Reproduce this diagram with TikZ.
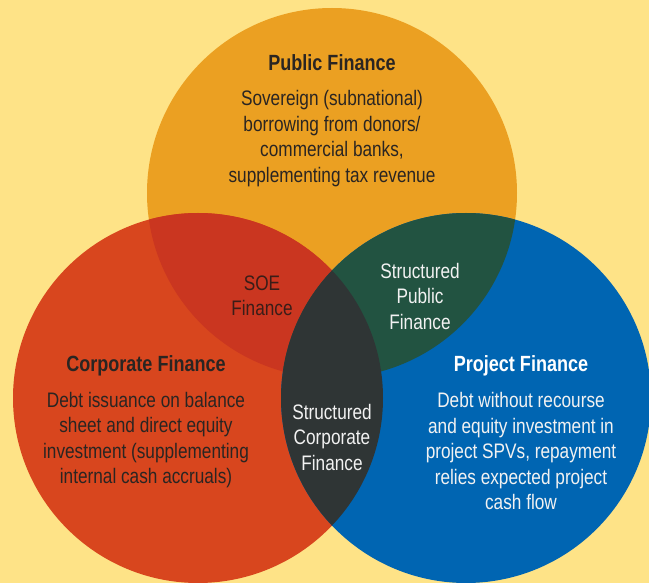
\documentclass[tikz,border=0pt]{standalone}
\usepackage{fontspec}
\setmainfont[FakeStretch=0.82]{Liberation Sans}
\definecolor{bgc}{HTML}{FEE387}
\definecolor{topc}{HTML}{EBA022}
\definecolor{leftc}{HTML}{D8461E}
\definecolor{rightc}{HTML}{0065B2}
\definecolor{tlc}{HTML}{CA3620}
\definecolor{trc}{HTML}{225341}
\definecolor{ctrc}{HTML}{2F3535}
\definecolor{darktext}{HTML}{2A2522}
\definecolor{soetext}{HTML}{3A1D18}
\definecolor{lighttext}{HTML}{F2F2F2}
\begin{document}
\begin{tikzpicture}[x=1pt,y=-1pt,
  bodytext/.style={align=center, font=\fontsize{21}{25.5}\selectfont, inner sep=0pt},
  titletext/.style={align=center, font=\fontsize{22}{26}\selectfont\bfseries, inner sep=0pt}]
\fill[bgc] (0,0) rectangle (649,583);
\useasboundingbox (0,0) rectangle (649,583);
\coordinate (T) at (332,193);
\coordinate (L) at (198,398);
\coordinate (R) at (466,398);
\fill[topc] (T) circle[radius=185];
\fill[leftc] (L) circle[radius=185];
\fill[rightc] (R) circle[radius=185];
\begin{scope}
  \clip (T) circle[radius=185];
  \fill[tlc] (L) circle[radius=185];
  \fill[trc] (R) circle[radius=185];
\end{scope}
\begin{scope}
  \clip (L) circle[radius=185];
  \fill[ctrc] (R) circle[radius=185];
\end{scope}
% titles and texts
\node[titletext, text=darktext] (pubtitle) at (332,63) {Public Finance};
\node[bodytext, text=darktext] (pubbody) at (332,138.5) {Sovereign (subnational)\\borrowing from donors/\\commercial banks,\\supplementing tax revenue};
\node[bodytext, text=soetext] (soe) at (262,296) {SOE\\Finance};
\node[bodytext, text=lighttext] (spf) at (420,296) {Structured\\Public\\Finance};
\node[titletext, text=darktext] (corptitle) at (146,366) {Corporate Finance};
\node[bodytext, text=darktext] (corpbody) at (146,440) {Debt issuance on balance\\sheet and direct equity\\investment (supplementing\\internal cash accruals)};
\node[bodytext, text=lighttext] (scf) at (332,437) {Structured\\Corporate\\Finance};
\node[titletext, text=white] (projtitle) at (521,366) {Project Finance};
\node[bodytext, text=lighttext] (projbody) at (521,451) {Debt without recourse\\and equity investment in\\project SPVs, repayment\\relies expected project\\cash flow};
\end{tikzpicture}
\end{document}
